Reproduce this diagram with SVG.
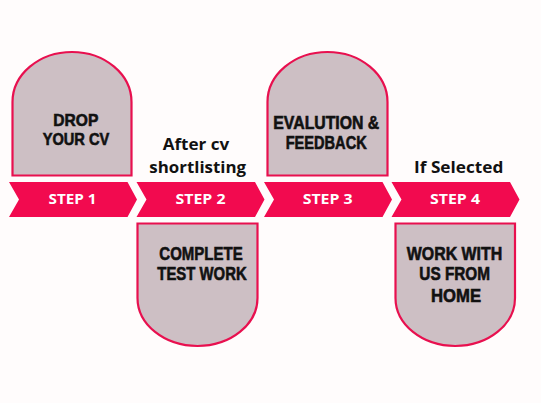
<svg xmlns="http://www.w3.org/2000/svg" width="541" height="403" viewBox="0 0 541 403">
<style>
.bg{fill:#fffcfc}
.box{fill:#cdbfc4;stroke:#e8104f;stroke-width:2.2}
.chev{fill:#f20a4f}
.title{font-family:"Liberation Sans","Arial",sans-serif;font-weight:bold;font-size:17.8px;fill:#111;stroke:#111;stroke-width:0.6;text-anchor:middle}
.small{font-size:16.7px}
.step{font-family:"Open Sans","Liberation Sans",sans-serif;font-weight:bold;font-size:14px;fill:#fff;text-anchor:middle}
.note{font-family:"Open Sans","Liberation Sans",sans-serif;font-weight:bold;font-size:16.5px;fill:#111;text-anchor:middle}
</style>
<rect class="bg" x="0" y="0" width="541" height="403"/>
<g id="connectors">
<polygon class="chev" points="9,182 127.5,182 137,199.5 127.5,217 9,217 19,199.5"/>
<polygon class="chev" points="136.5,182 255,182 264.5,199.5 255,217 136.5,217 146.5,199.5"/>
<polygon class="chev" points="264,182 382.5,182 392,199.5 382.5,217 264,217 274,199.5"/>
<polygon class="chev" points="391.5,182 510,182 519.5,199.5 510,217 391.5,217 401.5,199.5"/>
</g>
<g id="step1">
<text class="step" x="72.5" y="203.5" textLength="48" lengthAdjust="spacingAndGlyphs">STEP 1</text>
</g>
<g id="step2">
<text class="step" x="200.5" y="203.5" textLength="50" lengthAdjust="spacingAndGlyphs">STEP 2</text>
</g>
<g id="step3">
<text class="step" x="327.7" y="203.5" textLength="50" lengthAdjust="spacingAndGlyphs">STEP 3</text>
</g>
<g id="step4">
<text class="step" x="455" y="203.5" textLength="50" lengthAdjust="spacingAndGlyphs">STEP 4</text>
</g>
<g id="node1">
<path class="box" d="M12.5,175.5 V102 A59.5,50 0 0 1 131.5,102 V175.5 Z"/>
<text class="title small" x="75.8" y="125.7" textLength="45" lengthAdjust="spacingAndGlyphs">DROP</text>
<text class="title small" x="76" y="144.5" textLength="66.7" lengthAdjust="spacingAndGlyphs">YOUR CV</text>
</g>
<g id="node2">
<path class="box" d="M137.5,223.5 H257.5 V298 A60,48 0 0 1 137.5,298 Z"/>
<text class="title" x="201" y="260" textLength="83.3" lengthAdjust="spacingAndGlyphs">COMPLETE</text>
<text class="title" x="202" y="280" textLength="89.3" lengthAdjust="spacingAndGlyphs">TEST WORK</text>
</g>
<g id="node3">
<path class="box" d="M267.5,175.5 V102 A60,50 0 0 1 387.5,102 V175.5 Z"/>
<text class="title" x="326.3" y="129" textLength="106" lengthAdjust="spacingAndGlyphs">EVALUTION &amp;</text>
<text class="title" x="326.2" y="149.3" textLength="81" lengthAdjust="spacingAndGlyphs">FEEDBACK</text>
</g>
<g id="node4">
<path class="box" d="M395.5,223.5 H515 V298 A59.75,48 0 0 1 395.5,298 Z"/>
<text class="title" x="454.5" y="260" textLength="95.5" lengthAdjust="spacingAndGlyphs">WORK WITH</text>
<text class="title" x="454.7" y="280.2" textLength="70.7" lengthAdjust="spacingAndGlyphs">US FROM</text>
<text class="title" x="456" y="301.5" textLength="50" lengthAdjust="spacingAndGlyphs">HOME</text>
</g>
<g id="label-shortlisting">
<text class="note" x="196" y="150" textLength="66.6" lengthAdjust="spacingAndGlyphs">After cv</text>
<text class="note" x="197.7" y="173.3" textLength="96.7" lengthAdjust="spacingAndGlyphs">shortlisting</text>
</g>
<g id="label-selected">
<text class="note" x="458.7" y="173.3" textLength="89.3" lengthAdjust="spacingAndGlyphs">If Selected</text>
</g>
</svg>
